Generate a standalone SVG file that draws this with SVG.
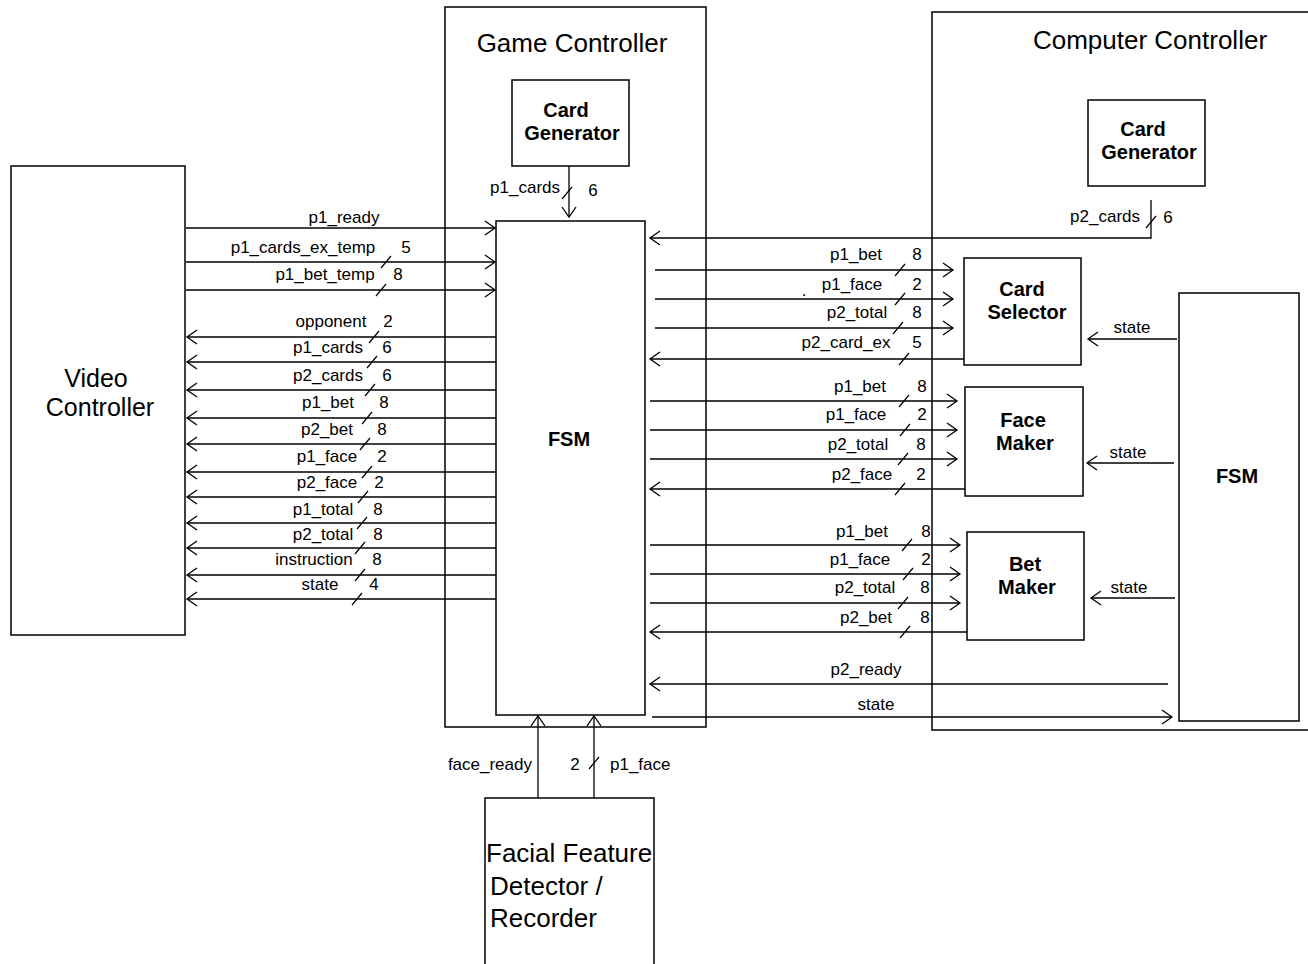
<svg xmlns="http://www.w3.org/2000/svg" xmlns:xlink="http://www.w3.org/1999/xlink" width="1308" height="964" viewBox="0 0 1308 964">
<defs>
<style>
.box{fill:#fff;stroke:#000;stroke-width:1.5}
.frame{fill:none;stroke:#000;stroke-width:1.5}
.ln{fill:none;stroke:#000;stroke-width:1.3}
.sl{fill:none;stroke:#000;stroke-width:1.2}
.lbl{font-family:"Liberation Sans",Arial,sans-serif;font-size:17px;fill:#000;text-anchor:middle}
.lbe{font-family:"Liberation Sans",Arial,sans-serif;font-size:17px;fill:#000;text-anchor:end}
.lbs{font-family:"Liberation Sans",Arial,sans-serif;font-size:17px;fill:#000;text-anchor:start}
.big{font-family:"Liberation Sans",Arial,sans-serif;font-size:26px;fill:#000;text-anchor:middle}
.vc{font-family:"Liberation Sans",Arial,sans-serif;font-size:25px;fill:#000;text-anchor:middle}
.bigl{font-family:"Liberation Sans",Arial,sans-serif;font-size:26px;fill:#000;text-anchor:start}
.bold{font-family:"Liberation Sans",Arial,sans-serif;font-size:20px;font-weight:bold;fill:#000;text-anchor:middle}
</style>
<marker id="ah" viewBox="-1 -1 13 16" refX="10" refY="7" markerWidth="13" markerHeight="16" markerUnits="userSpaceOnUse" orient="auto" overflow="visible">
<path d="M0,0 L10,7 L0,14" fill="none" stroke="#000" stroke-width="1.3"/>
</marker>
<path id="sl" d="M-5,6 L5,-6" class="sl"/>
</defs>
<rect width="1308" height="964" fill="#fff"/>

<g id="game-controller">
<rect class="frame" x="445" y="7" width="261" height="720"/>
<text class="big" x="572" y="52">Game Controller</text>
</g>
<g id="computer-controller">
<rect class="frame" x="932" y="12" width="390" height="718"/>
<text class="big" x="1150" y="49">Computer Controller</text>
</g>
<g id="video-controller">
<rect class="box" x="11" y="166" width="174" height="469"/>
<text class="vc" x="96" y="387">Video</text>
<text class="vc" x="100" y="416">Controller</text>
</g>
<g id="gc-card-generator">
<rect class="box" x="512" y="80" width="117" height="86"/>
<text class="bold" x="566" y="117">Card</text>
<text class="bold" x="572" y="140">Generator</text>
</g>
<g id="gc-fsm">
<rect class="box" x="496" y="221" width="149" height="494"/>
<text class="bold" x="569" y="446">FSM</text>
</g>
<g id="cc-card-generator">
<rect class="box" x="1088" y="100" width="117" height="86"/>
<text class="bold" x="1143" y="136">Card</text>
<text class="bold" x="1149" y="159">Generator</text>
</g>
<g id="card-selector">
<rect class="box" x="964" y="258" width="117" height="107"/>
<text class="bold" x="1022" y="296">Card</text>
<text class="bold" x="1027" y="319">Selector</text>
</g>
<g id="face-maker">
<rect class="box" x="965" y="387" width="118" height="109"/>
<text class="bold" x="1023" y="427">Face</text>
<text class="bold" x="1025" y="450">Maker</text>
</g>
<g id="bet-maker">
<rect class="box" x="967" y="532" width="117" height="108"/>
<text class="bold" x="1025" y="571">Bet</text>
<text class="bold" x="1027" y="594">Maker</text>
</g>
<g id="cc-fsm">
<rect class="box" x="1179" y="293" width="120" height="428"/>
<text class="bold" x="1237" y="483">FSM</text>
</g>
<g id="facial-feature-detector">
<rect class="box" x="485" y="798" width="169" height="180"/>
<text class="bigl" x="486" y="862">Facial Feature</text>
<text class="bigl" x="490" y="895">Detector /</text>
<text class="bigl" x="490" y="927">Recorder</text>
</g>

<g id="connectors">
<line class="ln" x1="186" y1="228" x2="495" y2="228" marker-end="url(#ah)"/>
<line class="ln" x1="186" y1="262" x2="495" y2="262" marker-end="url(#ah)"/>
<line class="ln" x1="186" y1="290" x2="495" y2="290" marker-end="url(#ah)"/>
<text class="lbl" x="344" y="223">p1_ready</text>
<text class="lbl" x="303" y="253">p1_cards_ex_temp</text><text class="lbl" x="406" y="253">5</text>
<text class="lbl" x="325" y="280">p1_bet_temp</text><text class="lbl" x="398" y="280">8</text>
<use xlink:href="#sl" x="386" y="262"/>
<use xlink:href="#sl" x="381" y="290"/>

<line class="ln" x1="496" y1="337" x2="187" y2="337" marker-end="url(#ah)"/>
<line class="ln" x1="496" y1="362" x2="187" y2="362" marker-end="url(#ah)"/>
<line class="ln" x1="496" y1="390" x2="187" y2="390" marker-end="url(#ah)"/>
<line class="ln" x1="496" y1="418" x2="187" y2="418" marker-end="url(#ah)"/>
<line class="ln" x1="496" y1="444" x2="187" y2="444" marker-end="url(#ah)"/>
<line class="ln" x1="496" y1="472" x2="187" y2="472" marker-end="url(#ah)"/>
<line class="ln" x1="496" y1="497" x2="187" y2="497" marker-end="url(#ah)"/>
<line class="ln" x1="496" y1="523" x2="187" y2="523" marker-end="url(#ah)"/>
<line class="ln" x1="496" y1="548" x2="187" y2="548" marker-end="url(#ah)"/>
<line class="ln" x1="496" y1="575" x2="187" y2="575" marker-end="url(#ah)"/>
<line class="ln" x1="496" y1="599" x2="187" y2="599" marker-end="url(#ah)"/>
<text class="lbl" x="331" y="327">opponent</text><text class="lbl" x="388" y="327">2</text>
<text class="lbl" x="328" y="353">p1_cards</text><text class="lbl" x="387" y="353">6</text>
<text class="lbl" x="328" y="381">p2_cards</text><text class="lbl" x="387" y="381">6</text>
<text class="lbl" x="328" y="408">p1_bet</text><text class="lbl" x="384" y="408">8</text>
<text class="lbl" x="327" y="435">p2_bet</text><text class="lbl" x="382" y="435">8</text>
<text class="lbl" x="327" y="462">p1_face</text><text class="lbl" x="382" y="462">2</text>
<text class="lbl" x="327" y="488">p2_face</text><text class="lbl" x="379" y="488">2</text>
<text class="lbl" x="323" y="515">p1_total</text><text class="lbl" x="378" y="515">8</text>
<text class="lbl" x="323" y="540">p2_total</text><text class="lbl" x="378" y="540">8</text>
<text class="lbl" x="314" y="565">instruction</text><text class="lbl" x="377" y="565">8</text>
<text class="lbl" x="320" y="590">state</text><text class="lbl" x="374" y="590">4</text>
<use xlink:href="#sl" x="374" y="337"/>
<use xlink:href="#sl" x="372" y="362"/>
<use xlink:href="#sl" x="370" y="390"/>
<use xlink:href="#sl" x="367" y="418"/>
<use xlink:href="#sl" x="365" y="444"/>
<use xlink:href="#sl" x="367" y="472"/>
<use xlink:href="#sl" x="363" y="497"/>
<use xlink:href="#sl" x="362" y="523"/>
<use xlink:href="#sl" x="360" y="548"/>
<use xlink:href="#sl" x="360" y="575"/>
<use xlink:href="#sl" x="357" y="599"/>

<line class="ln" x1="569" y1="166" x2="569" y2="217" marker-end="url(#ah)"/>
<use xlink:href="#sl" x="567" y="193"/>
<text class="lbe" x="560" y="193">p1_cards</text><text class="lbl" x="593" y="196">6</text>

<polyline class="ln" points="1151,200 1151,238 650,238" marker-end="url(#ah)"/>
<use xlink:href="#sl" x="1151" y="222"/>
<text class="lbe" x="1140" y="222">p2_cards</text><text class="lbl" x="1168" y="223">6</text>

<line class="ln" x1="655" y1="270" x2="953" y2="270" marker-end="url(#ah)"/>
<line class="ln" x1="655" y1="299" x2="953" y2="299" marker-end="url(#ah)"/>
<line class="ln" x1="655" y1="328" x2="953" y2="328" marker-end="url(#ah)"/>
<line class="ln" x1="964" y1="359" x2="650" y2="359" marker-end="url(#ah)"/>
<text class="lbl" x="856" y="260">p1_bet</text><text class="lbl" x="917" y="260">8</text>
<text class="lbl" x="804" y="296">.</text>
<text class="lbl" x="852" y="290">p1_face</text><text class="lbl" x="917" y="290">2</text>
<text class="lbl" x="857" y="318">p2_total</text><text class="lbl" x="917" y="318">8</text>
<text class="lbl" x="846" y="348">p2_card_ex</text><text class="lbl" x="917" y="348">5</text>
<use xlink:href="#sl" x="900" y="270"/>
<use xlink:href="#sl" x="900" y="299"/>
<use xlink:href="#sl" x="898" y="328"/>
<use xlink:href="#sl" x="904" y="359"/>

<line class="ln" x1="650" y1="401" x2="957" y2="401" marker-end="url(#ah)"/>
<line class="ln" x1="650" y1="430" x2="957" y2="430" marker-end="url(#ah)"/>
<line class="ln" x1="650" y1="459" x2="957" y2="459" marker-end="url(#ah)"/>
<line class="ln" x1="965" y1="489" x2="650" y2="489" marker-end="url(#ah)"/>
<text class="lbl" x="860" y="392">p1_bet</text><text class="lbl" x="922" y="392">8</text>
<text class="lbl" x="856" y="420">p1_face</text><text class="lbl" x="922" y="420">2</text>
<text class="lbl" x="858" y="450">p2_total</text><text class="lbl" x="921" y="450">8</text>
<text class="lbl" x="862" y="480">p2_face</text><text class="lbl" x="921" y="480">2</text>
<use xlink:href="#sl" x="904" y="401"/>
<use xlink:href="#sl" x="905" y="430"/>
<use xlink:href="#sl" x="903" y="459"/>
<use xlink:href="#sl" x="900" y="489"/>

<line class="ln" x1="650" y1="545" x2="960" y2="545" marker-end="url(#ah)"/>
<line class="ln" x1="650" y1="574" x2="960" y2="574" marker-end="url(#ah)"/>
<line class="ln" x1="650" y1="603" x2="960" y2="603" marker-end="url(#ah)"/>
<line class="ln" x1="967" y1="632" x2="650" y2="632" marker-end="url(#ah)"/>
<text class="lbl" x="862" y="537">p1_bet</text><text class="lbl" x="926" y="537">8</text>
<text class="lbl" x="860" y="565">p1_face</text><text class="lbl" x="926" y="565">2</text>
<text class="lbl" x="865" y="593">p2_total</text><text class="lbl" x="925" y="593">8</text>
<text class="lbl" x="866" y="623">p2_bet</text><text class="lbl" x="925" y="623">8</text>
<use xlink:href="#sl" x="907" y="545"/>
<use xlink:href="#sl" x="908" y="574"/>
<use xlink:href="#sl" x="903" y="603"/>
<use xlink:href="#sl" x="905" y="632"/>

<line class="ln" x1="1168" y1="684" x2="650" y2="684" marker-end="url(#ah)"/>
<text class="lbl" x="866" y="675">p2_ready</text>
<line class="ln" x1="652" y1="717" x2="1172" y2="717" marker-end="url(#ah)"/>
<text class="lbl" x="876" y="710">state</text>

<line class="ln" x1="1177" y1="339" x2="1088" y2="339" marker-end="url(#ah)"/>
<text class="lbl" x="1132" y="333">state</text>
<line class="ln" x1="1174" y1="463" x2="1087" y2="463" marker-end="url(#ah)"/>
<text class="lbl" x="1128" y="458">state</text>
<line class="ln" x1="1175" y1="598" x2="1091" y2="598" marker-end="url(#ah)"/>
<text class="lbl" x="1129" y="593">state</text>

<line class="ln" x1="538" y1="798" x2="538" y2="716" marker-end="url(#ah)"/>
<line class="ln" x1="594" y1="798" x2="594" y2="716" marker-end="url(#ah)"/>
<text class="lbe" x="532" y="770">face_ready</text>
<text class="lbl" x="575" y="770">2</text>
<use xlink:href="#sl" x="594" y="763"/>
<text class="lbs" x="610" y="770">p1_face</text>
</g>
</svg>
